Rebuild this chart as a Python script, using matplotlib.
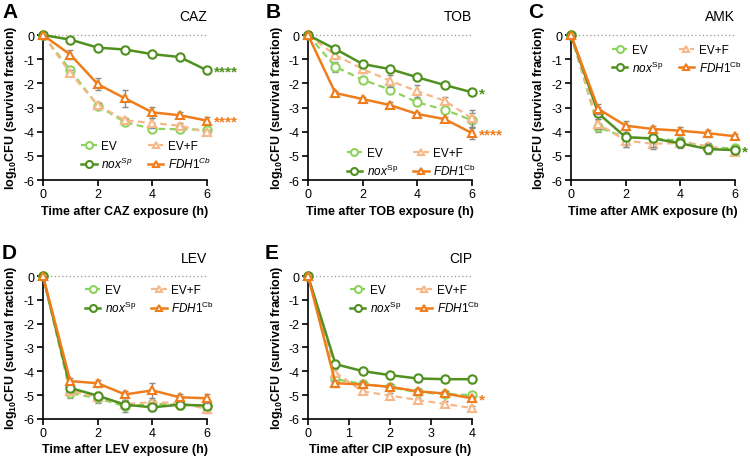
import numpy as np
import matplotlib
matplotlib.use("Agg")
import matplotlib.pyplot as plt

plt.rcParams['font.family'] = ['Liberation Sans', 'DejaVu Sans']
plt.rcParams['mathtext.fontset'] = 'custom'
plt.rcParams['mathtext.rm'] = 'Liberation Sans'
plt.rcParams['mathtext.it'] = 'Liberation Sans:italic'
plt.rcParams['mathtext.bf'] = 'Liberation Sans:bold'

# colours
c_ev = '#8fd35f'
c_nox = '#4f901f'
c_evf = '#f6b888'
c_fdh = '#ef7d1b'
c_err = '#8a8a8a'

# time points
t6 = [0, 1, 2, 3, 4, 5, 6]
t_cip = [0, 0.67, 1.33, 2, 2.67, 3.33, 4]

# CAZ
caz_ev = [0, -1.45, -2.92, -3.61, -3.88, -3.9, -3.92]
caz_evf = [0, -1.57, -2.9, -3.53, -3.64, -3.75, -4.03]
caz_nox = [0, -0.19, -0.52, -0.6, -0.79, -0.91, -1.46]
caz_fdh = [0, -0.81, -2.03, -2.62, -3.2, -3.32, -3.54]
caz_ev_e = [0, 0.1, 0.1, 0.12, 0.15, 0.1, 0.1]
caz_evf_e = [0, 0.12, 0.1, 0.1, 0.2, 0.1, 0.1]
caz_nox_e = [0, 0.05, 0.05, 0.05, 0.05, 0.05, 0.05]
caz_fdh_e = [0, 0.18, 0.25, 0.35, 0.22, 0.12, 0.15]

# TOB
tob_ev = [0, -1.31, -1.85, -2.26, -2.79, -3.09, -3.53]
tob_evf = [0, -0.83, -1.41, -1.89, -2.33, -2.72, -3.45]
tob_nox = [0, -0.58, -1.2, -1.41, -1.75, -2.07, -2.37]
tob_fdh = [0, -2.4, -2.65, -2.9, -3.27, -3.48, -4.06]
tob_ev_e = [0, 0.2, 0.1, 0.12, 0.1, 0.1, 0.3]
tob_evf_e = [0, 0.15, 0.15, 0.25, 0.25, 0.15, 0.35]
tob_nox_e = [0, 0.08, 0.08, 0.05, 0.05, 0.05, 0.05]
tob_fdh_e = [0, 0.08, 0.08, 0.12, 0.1, 0.1, 0.25]

# AMK
amk_ev = [0, -3.82, -4.23, -4.28, -4.37, -4.65, -4.69]
amk_evf = [0, -3.68, -4.37, -4.5, -4.47, -4.58, -4.83]
amk_nox = [0, -3.24, -4.23, -4.28, -4.48, -4.72, -4.76]
amk_fdh = [0, -3.06, -3.75, -3.89, -3.96, -4.06, -4.19]
amk_ev_e = [0, 0.2, 0.2, 0.15, 0.15, 0.15, 0.12]
amk_evf_e = [0, 0.2, 0.25, 0.2, 0.15, 0.1, 0.1]
amk_nox_e = [0, 0.25, 0.4, 0.35, 0.2, 0.2, 0.12]
amk_fdh_e = [0, 0.2, 0.2, 0.12, 0.15, 0.15, 0.1]

# LEV
lev_ev = [0, -4.91, -5.13, -5.47, -5.36, -5.4, -5.44]
lev_evf = [0, -4.81, -5.09, -5.37, -5.3, -5.33, -5.58]
lev_nox = [0, -4.7, -5.02, -5.4, -5.51, -5.4, -5.44]
lev_fdh = [0, -4.41, -4.5, -4.97, -4.8, -5.09, -5.13]
lev_ev_e = [0, 0.2, 0.2, 0.25, 0.15, 0.2, 0.2]
lev_evf_e = [0, 0.15, 0.15, 0.15, 0.1, 0.15, 0.15]
lev_nox_e = [0, 0.15, 0.15, 0.15, 0.15, 0.1, 0.15]
lev_fdh_e = [0, 0.12, 0.15, 0.15, 0.3, 0.15, 0.18]

# CIP
cip_ev = [0, -4.33, -4.53, -4.67, -4.88, -4.95, -5.0]
cip_evf = [0, -4.05, -4.84, -5.02, -5.2, -5.37, -5.54]
cip_nox = [0, -3.7, -3.99, -4.16, -4.3, -4.33, -4.33]
cip_fdh = [0, -4.5, -4.55, -4.65, -4.84, -4.93, -5.13]
cip_ev_e = [0, 0.15, 0.1, 0.1, 0.12, 0.1, 0.12]
cip_evf_e = [0, 0.15, 0.12, 0.1, 0.1, 0.12, 0.1]
cip_nox_e = [0, 0.12, 0.08, 0.15, 0.15, 0.1, 0.15]
cip_fdh_e = [0, 0.15, 0.1, 0.1, 0.1, 0.1, 0.1]

fig = plt.figure(figsize=(7.5, 4.6), dpi=100)

W = 0.2187
top_b, top_h = 0.6065, 0.3204
bot_b, bot_h = 0.087, 0.316
lefts = [0.0573, 0.4107, 0.7613]


def panel(pos, t, ev, evf, nox, fdh, eve, evfe, noxe, fdhe, drug, letter,
          letter_xy, leg_xy, italic_sup=False, stars=(), xmax=6,
          xticks=(0, 2, 4, 6)):
    ax = fig.add_axes(pos)
    ax.axhline(0, color='#999999', ls=(0, (1, 2)), lw=0.9, zorder=0)
    series = [
        (ev, eve, c_ev, 'o', (0, (3, 2)), 1.6, 'EV'),
        (evf, evfe, c_evf, '^', (0, (3, 2)), 1.6, 'EV+F'),
        (nox, noxe, c_nox, 'o', '-', 1.8,
         r'$\mathit{nox}^{\mathit{Sp}}$' if italic_sup else r'$\mathit{nox}^{\mathrm{Sp}}$'),
        (fdh, fdhe, c_fdh, '^', '-', 1.8,
         r'$\mathit{FDH1}^{\mathit{Cb}}$' if italic_sup else r'$\mathit{FDH1}^{\mathrm{Cb}}$'),
    ]
    handles = []
    for k, (y, e, c, m, ls, lw, lab) in enumerate(series):
        ax.errorbar(t, y, yerr=e, fmt='none', ecolor=c_err, elinewidth=1.0,
                    capsize=2.5, capthick=1.0, zorder=2 + 2 * k, clip_on=False)
        h, = ax.plot(t, y, color=c, ls=ls, lw=lw, marker=m, ms=6, mew=1.5,
                     mfc='white', mec=c, label=lab, zorder=3 + 2 * k,
                     clip_on=False)
        handles.append(h)
    ax.set_xlim(0, xmax)
    ax.set_ylim(-6, 0.1)
    ax.set_yticks(range(-6, 1))
    ax.set_yticklabels([str(v) for v in range(-6, 1)])
    ax.set_xticks(xticks)
    for s in ['top', 'right']:
        ax.spines[s].set_visible(False)
    for s in ['left', 'bottom']:
        ax.spines[s].set_linewidth(1.2)
    ax.tick_params(direction='out', length=4, width=1.2, labelsize=9, pad=2)
    ax.set_xlabel('Time after %s exposure (h)' % drug, fontsize=9,
                  fontweight='bold', labelpad=3)
    ax.set_ylabel(r'log$_\mathbf{10}$CFU (survival fraction)', fontsize=9,
                  fontweight='bold', labelpad=3)
    ax.text(1.0, 1.11, drug, transform=ax.transAxes, ha='right', va='center',
            fontsize=10)
    fig.text(letter_xy[0] / 750, 1 - letter_xy[1] / 460, letter, ha='left',
             va='top', fontsize=15, fontweight='bold')
    # row-wise legend: EV, EV+F / nox, FDH1
    order = [handles[0], handles[2], handles[1], handles[3]]
    leg = ax.legend(handles=order, labels=[h.get_label() for h in order],
                    loc='center', bbox_to_anchor=leg_xy, ncol=2,
                    frameon=False, fontsize=8.5, handlelength=1.3,
                    handletextpad=0.4, columnspacing=1.3, labelspacing=0.3,
                    borderaxespad=0)
    for ln in leg.get_lines():
        ln.set_markersize(5)
    for yv, txt, c in stars:
        ax.text(xmax * 1.045, yv, txt, color=c, fontsize=11, fontweight='bold',
                ha='left', va='center', clip_on=False)
    return ax


panel([lefts[0], top_b, W, top_h], t6, caz_ev, caz_evf, caz_nox, caz_fdh,
      caz_ev_e, caz_evf_e, caz_nox_e, caz_fdh_e, 'CAZ', 'A', (2, 3),
      (0.63, 0.165), italic_sup=True,
      stars=[(caz_nox[-1] - 0.05, '****', c_nox), (caz_fdh[-1] - 0.05, '****', c_fdh)])
panel([lefts[1], top_b, W, top_h], t6, tob_ev, tob_evf, tob_nox, tob_fdh,
      tob_ev_e, tob_evf_e, tob_nox_e, tob_fdh_e, 'TOB', 'B', (266, 3),
      (0.63, 0.12),
      stars=[(tob_nox[-1] - 0.05, '*', c_nox), (tob_fdh[-1] - 0.05, '****', c_fdh)])
panel([lefts[2], top_b, W, top_h], t6, amk_ev, amk_evf, amk_nox, amk_fdh,
      amk_ev_e, amk_evf_e, amk_nox_e, amk_fdh_e, 'AMK', 'C', (528, 3),
      (0.645, 0.82), stars=[(amk_nox[-1] - 0.05, '*', c_nox)])
panel([lefts[0], bot_b, W, bot_h], t6, lev_ev, lev_evf, lev_nox, lev_fdh,
      lev_ev_e, lev_evf_e, lev_nox_e, lev_fdh_e, 'LEV', 'D', (2, 244),
      (0.65, 0.82))
panel([lefts[1], bot_b, W, bot_h], t_cip, cip_ev, cip_evf, cip_nox, cip_fdh,
      cip_ev_e, cip_evf_e, cip_nox_e, cip_fdh_e, 'CIP', 'E', (265, 244),
      (0.65, 0.82), stars=[(cip_fdh[-1] - 0.05, '*', c_fdh)], xmax=4,
      xticks=(0, 1, 2, 3, 4))

fig.savefig('out.png', dpi=100)
